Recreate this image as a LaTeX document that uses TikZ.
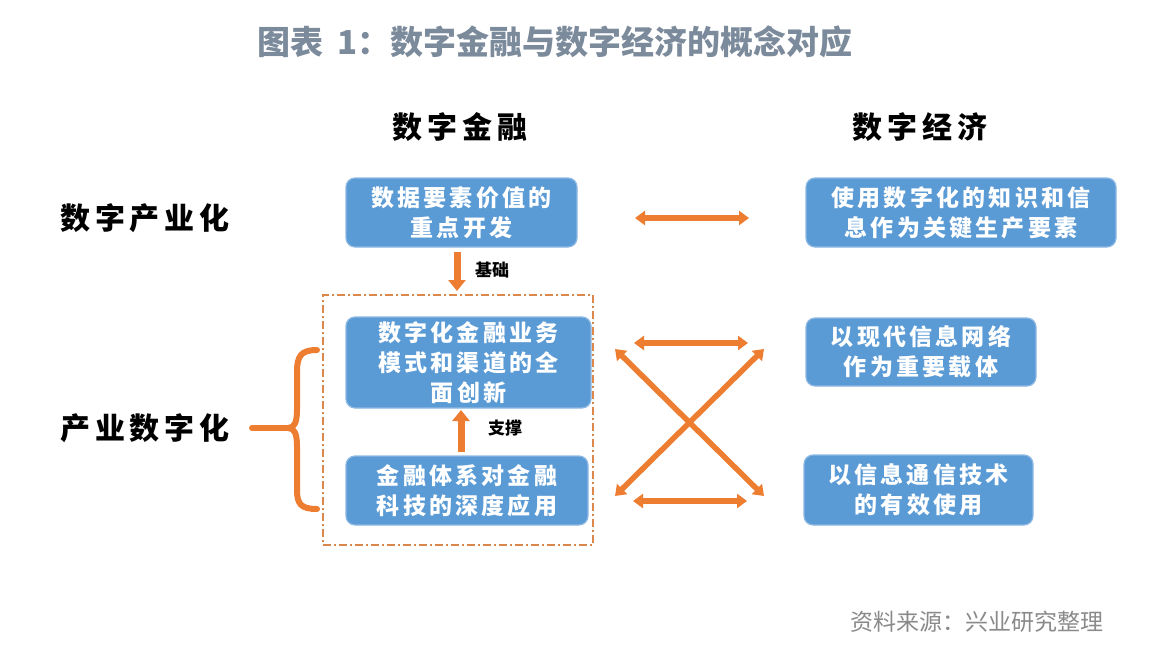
\documentclass[tikz,border=0pt]{standalone}
\usepackage{fontspec}
\setmainfont{Noto Sans CJK SC}
\newfontfamily\cjkbox[LetterSpace=14]{Noto Sans CJK SC}
\newfontfamily\cjkhead[LetterSpace=16]{Noto Sans CJK SC}
\newfontfamily\cjktitle{Noto Sans CJK SC}
\usetikzlibrary{arrows.meta}
\definecolor{boxblue}{HTML}{5B9BD5}
\definecolor{boxedge}{HTML}{8DB9E4}
\definecolor{arrorange}{HTML}{ED7D31}
\definecolor{dashorange}{HTML}{D9884A}
\definecolor{titlegray}{HTML}{7C8B9C}
\definecolor{srcgray}{HTML}{8A8A8A}
\begin{document}
\begin{tikzpicture}[x=1pt,y=-1pt,
  bluebox/.style={draw=boxedge, line width=1.2pt, fill=boxblue, rounded corners=9pt,
    text=white, font=\cjkbox\bfseries\fontsize{23}{30}\selectfont, align=center, inner sep=0pt},
  headtext/.style={font=\cjkhead\bfseries\fontsize{30}{34}\selectfont, text=black},
  smalllabel/.style={font=\bfseries\fontsize{17}{20}\selectfont, text=black},
  vertarrow/.style={draw=arrorange, line width=7pt, -{Triangle[width=17pt,length=11pt]}},
  dblarrow/.style={draw=arrorange, line width=5.5pt, {Triangle[width=14pt,length=10pt]}-{Triangle[width=14pt,length=10pt]}},
  bracestyle/.style={draw=arrorange, line width=6pt, line cap=round},
  dashbox/.style={draw=dashorange, line width=1.2pt, dash pattern=on 8pt off 3pt on 2pt off 3pt}
]
\useasboundingbox (0,0) rectangle (1150,658);
\fill[white] (0,0) rectangle (1150,658);

% title
\node[font=\cjktitle\bfseries\fontsize{33}{37}\selectfont, text=titlegray] (title) at (555,42) {图表\hspace{14pt}1：数字金融与数字经济的概念对应};

% headings
\node[headtext] (h1) at (460,127) {数字金融};
\node[headtext] (h2) at (920,127) {数字经济};
\node[headtext] (r1) at (145,218) {数字产业化};
\node[headtext] (r2) at (145,428) {产业数字化};

% dashed frame
\node[dashbox, minimum width=270pt, minimum height=250pt, inner sep=0pt] (dash) at (458,420) {};

% boxes
\node[bluebox, minimum width=231pt, minimum height=69pt] (b1) at (461.5,212.5) {数据要素价值的\\重点开发};
\node[bluebox, minimum width=245pt, minimum height=91pt] (b2) at (468.5,362.5) {数字化金融业务\\模式和渠道的全\\面创新};
\node[bluebox, minimum width=242pt, minimum height=69pt] (b3) at (467,490.5) {金融体系对金融\\科技的深度应用};
\node[bluebox, minimum width=310pt, minimum height=69pt] (b4) at (961,212.5) {使用数字化的知识和信\\息作为关键生产要素};
\node[bluebox, minimum width=230pt, minimum height=68pt] (b5) at (921,352) {以现代信息网络\\作为重要载体};
\node[bluebox, minimum width=229pt, minimum height=70pt] (b6) at (918.5,490) {以信息通信技术\\的有效使用};

% vertical arrows
\coordinate (a1s) at (457,252);
\coordinate (a1e) at (457,291);
\draw[vertarrow] (a1s) -- (a1e);
\node[smalllabel] (l1) at (492,270) {基础};
\coordinate (a2s) at (461,452);
\coordinate (a2e) at (461,410);
\draw[vertarrow] (a2s) -- (a2e);
\node[smalllabel] (l2) at (505,428) {支撑};

% horizontal double arrows
\coordinate (t1) at (635,218);
\coordinate (t2) at (749,218);
\draw[dblarrow] (t1) -- (t2);
\coordinate (m1) at (634,343);
\coordinate (m2) at (748,343);
\draw[dblarrow] (m1) -- (m2);
\coordinate (n1) at (633,501);
\coordinate (n2) at (747,501);
\draw[dblarrow] (n1) -- (n2);
% crossing arrows
\coordinate (c1) at (615,349);
\coordinate (c2) at (764,496);
\coordinate (c3) at (615,496);
\coordinate (c4) at (764,349);
\draw[dblarrow] (c1) -- (c2);
\draw[dblarrow] (c3) -- (c4);

% brace
\coordinate (bs) at (252,428);
\coordinate (bm) at (288,428);
\draw[bracestyle] (bs) -- (bm);
\draw[bracestyle] (317,350) .. controls (301,350) and (297,356) .. (297,372) -- (297,410)
  .. controls (297,423) and (294,428) .. (bm)
  .. controls (294,428) and (297,433) .. (297,446) -- (297,490)
  .. controls (297,504) and (301,509) .. (317,509);

% source
\node[font=\fontsize{23}{27}\selectfont, text=srcgray] (src) at (977,622) {资料来源：兴业研究整理};
\end{tikzpicture}
\end{document}
